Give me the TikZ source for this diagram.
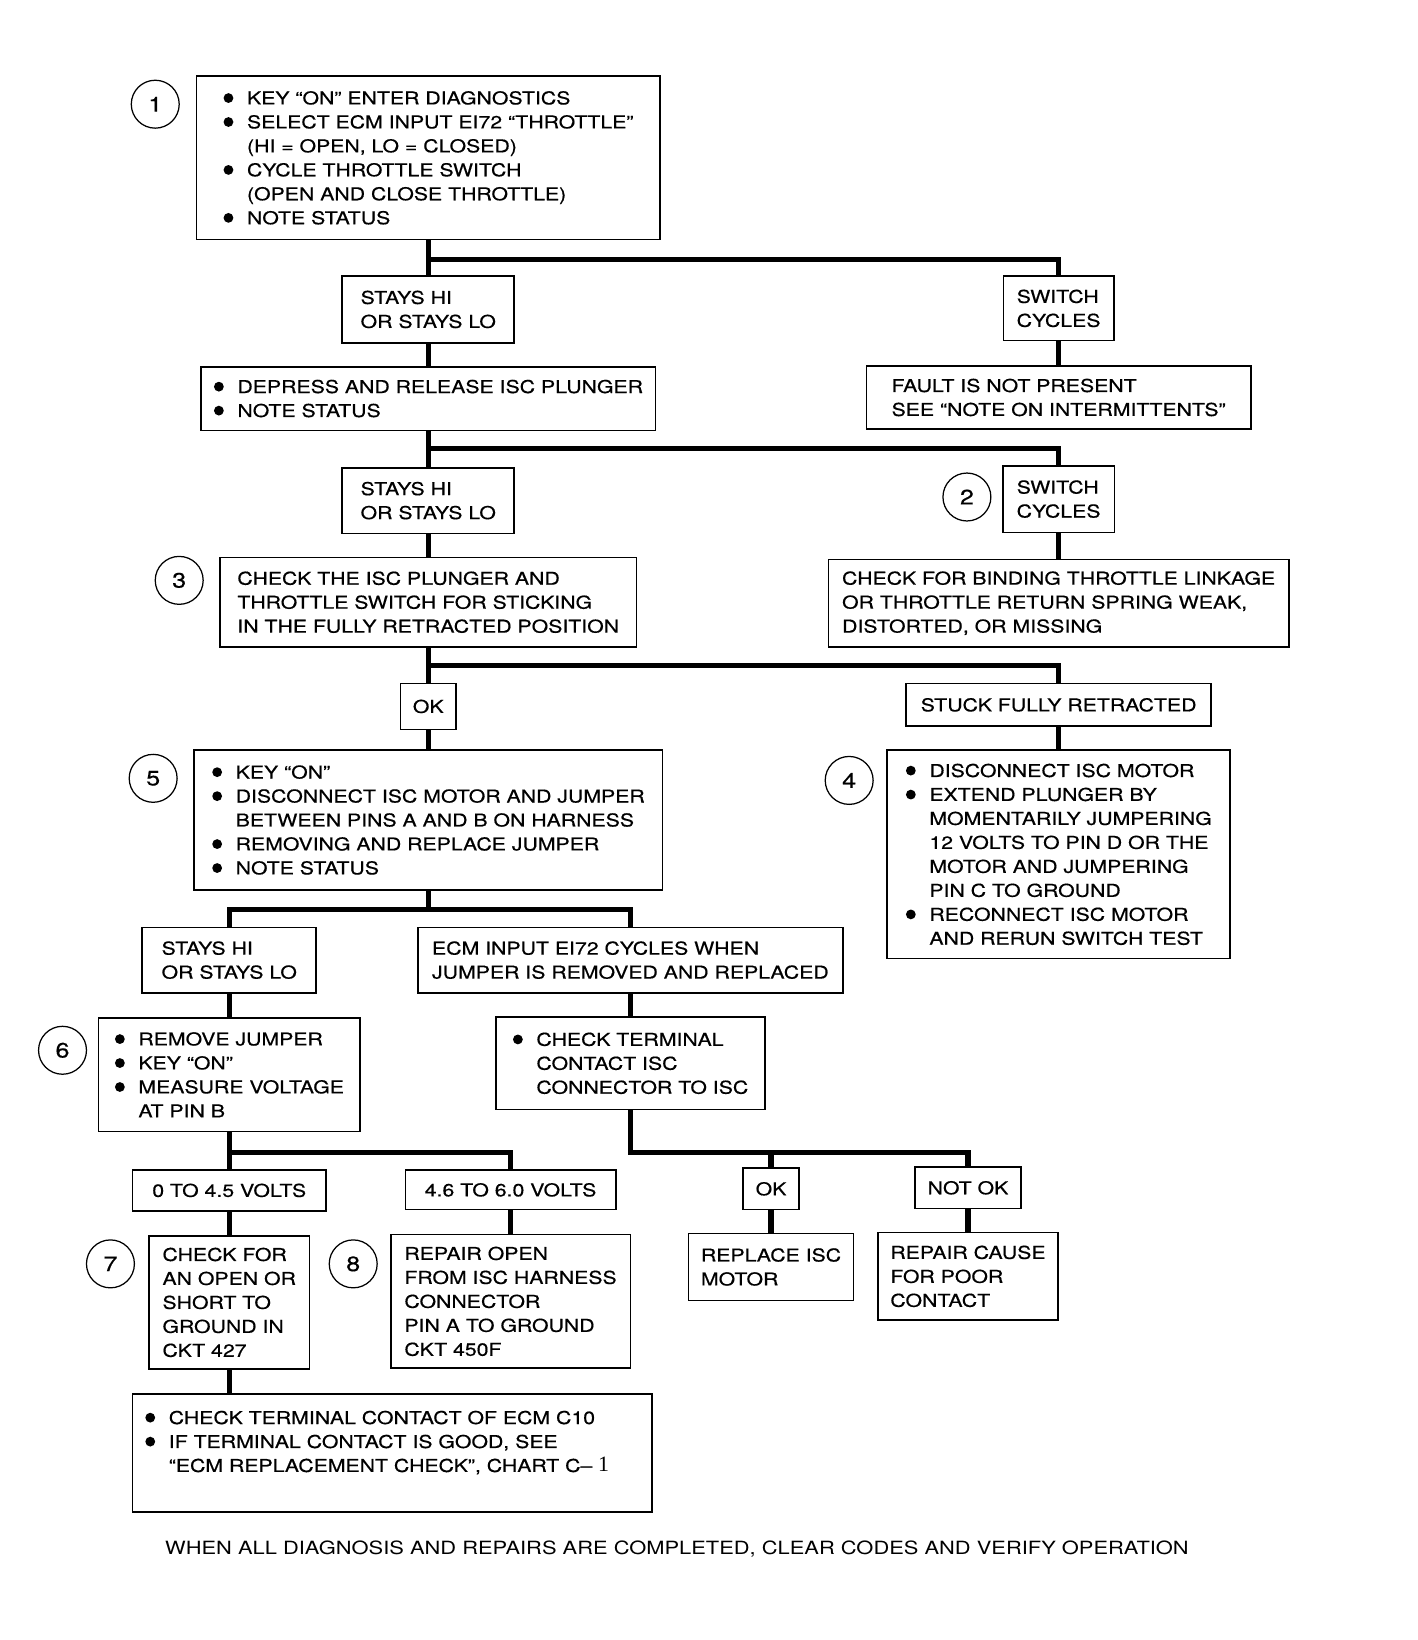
\documentclass[tikz,border=0pt]{standalone}
\usepackage{fontspec}
\setmainfont{TeX Gyre Heros}[FakeStretch=1.2,FakeBold=0.5]
\newfontfamily\serifone{Liberation Serif}
\newfontfamily\plainfont{TeX Gyre Heros}[FakeStretch=1.2]
\usepackage{tikz}
\usetikzlibrary{positioning}

\newcommand{\chartfont}{\fontsize{17pt}{23pt}\selectfont}
\newcommand{\bul}{\makebox[23pt][l]{\hspace{0.5pt}\tikz[baseline=-6.1pt]\fill (4.7pt,0pt) circle (4.7pt);}}
\newcommand{\ind}{\hspace*{23pt}}

\begin{document}
\begin{tikzpicture}[x=1pt,y=-1pt]

  \tikzstyle{every node}=[font=\chartfont]
  \tikzstyle{box}=[draw,rectangle,line width=1.5pt,align=left,inner xsep=12pt,inner ysep=8pt]
  \tikzstyle{num}=[draw,circle,line width=1.2pt,minimum size=46pt,inner sep=0pt,
    font=\fontsize{20pt}{23pt}\selectfont]
  \tikzstyle{conn}=[line width=5pt,line join=miter]

  \useasboundingbox (0,0) rectangle (1360,1574);

  % step 1
  \node[num] (c1) at (149,100) {1};
  \node[box,minimum width=445pt,minimum height=157pt] (s1) at (411,151.5)
    {\bul KEY “ON” ENTER DIAGNOSTICS\\
     \bul SELECT ECM INPUT EI72 “THROTTLE”\\
     \ind (HI = OPEN, LO = CLOSED)\\
     \bul CYCLE THROTTLE SWITCH\\
     \ind (OPEN AND CLOSE THROTTLE)\\
     \bul NOTE STATUS};
  \node[box,minimum width=165pt,minimum height=64pt] (hl1) at (411,297)
    {STAYS HI\\ OR STAYS LO};
  \node[box,minimum width=106pt,minimum height=62pt] (sw1) at (1016,296)
    {SWITCH\\ CYCLES};
  \node[box,minimum width=435pt,minimum height=61pt] (dep) at (411,382.5)
    {\bul DEPRESS AND RELEASE ISC PLUNGER\\ \bul NOTE STATUS};
  \node[box,minimum width=369pt,minimum height=61pt] (fault) at (1016,381.5)
    {FAULT IS NOT PRESENT\\ SEE “NOTE ON INTERMITTENTS”};

  % step 2 and 3
  \node[box,minimum width=165pt,minimum height=63pt] (hl2) at (411,480.5)
    {STAYS HI\\ OR STAYS LO};
  \node[box,minimum width=107pt,minimum height=64pt] (sw2) at (1016,479)
    {SWITCH\\ CYCLES};
  \node[num] (c2) at (928,477) {2};
  \node[num] (c3) at (172,557) {3};
  \node[box,minimum width=400pt,minimum height=86pt] (chk) at (411,578)
    {CHECK THE ISC PLUNGER AND\\
     THROTTLE SWITCH FOR STICKING\\
     IN THE FULLY RETRACTED POSITION};
  \node[box,minimum width=442pt,minimum height=84pt] (bind) at (1016,579)
    {CHECK FOR BINDING THROTTLE LINKAGE\\
     OR THROTTLE RETURN SPRING WEAK,\\
     DISTORTED, OR MISSING};

  % step 4 and 5
  \node[box,minimum width=51pt,minimum height=44pt,align=center] (ok1) at (411,678) {OK};
  \node[box,minimum width=293pt,minimum height=41pt,align=center] (stuck) at (1016,676.5)
    {STUCK FULLY RETRACTED};
  \node[num] (c5) at (147,747) {5};
  \node[box,minimum width=450pt,minimum height=134pt] (s5) at (411,787)
    {\bul KEY “ON”\\
     \bul DISCONNECT ISC MOTOR AND JUMPER\\
     \ind BETWEEN PINS A AND B ON HARNESS\\
     \bul REMOVING AND REPLACE JUMPER\\
     \bul NOTE STATUS};
  \node[num] (c4) at (815,749) {4};
  \node[box,minimum width=329pt,minimum height=200pt] (s4) at (1016,820)
    {\bul DISCONNECT ISC MOTOR\\
     \bul EXTEND PLUNGER BY\\
     \ind MOMENTARILY JUMPERING\\
     \ind 12 VOLTS TO PIN D OR THE\\
     \ind MOTOR AND JUMPERING\\
     \ind PIN C TO GROUND\\
     \bul RECONNECT ISC MOTOR\\
     \ind AND RERUN SWITCH TEST};

  % step 6
  \node[box,minimum width=167pt,minimum height=63pt] (hl3) at (220,921.5)
    {STAYS HI\\ OR STAYS LO};
  \node[box,minimum width=408pt,minimum height=63pt] (cyc) at (605,921.5)
    {ECM INPUT EI72 CYCLES WHEN\\ JUMPER IS REMOVED AND REPLACED};
  \node[num] (c6) at (60,1008) {6};
  \node[box,minimum width=251pt,minimum height=109pt] (s6) at (220,1031.5)
    {\bul REMOVE JUMPER\\
     \bul KEY “ON”\\
     \bul MEASURE VOLTAGE\\
     \ind AT PIN B};
  \node[box,minimum width=258pt,minimum height=89pt] (term) at (605,1020.5)
    {\bul CHECK TERMINAL\\
     \ind CONTACT ISC\\
     \ind CONNECTOR TO ISC};

  % results
  \node[box,minimum width=186pt,minimum height=39pt,align=center] (v1) at (220,1142.5)
    {0 TO 4.5 VOLTS};
  \node[box,minimum width=202pt,minimum height=38pt,align=center] (v2) at (490,1142)
    {4.6 TO 6.0 VOLTS};
  \node[box,minimum width=52pt,minimum height=40pt,align=center] (ok2) at (740,1141) {OK};
  \node[box,minimum width=102pt,minimum height=40pt,align=center] (nok) at (929,1140) {NOT OK};

  % step 7 and 8
  \node[num] (c7) at (106,1213) {7};
  \node[box,minimum width=154pt,minimum height=128pt] (s7) at (220,1250)
    {CHECK FOR\\ AN OPEN OR\\ SHORT TO\\ GROUND IN\\ CKT 427};
  \node[num] (c8) at (339,1213) {8};
  \node[box,minimum width=230pt,minimum height=128pt] (s8) at (490,1249)
    {REPAIR OPEN\\ FROM ISC HARNESS\\ CONNECTOR\\ PIN A TO GROUND\\ CKT 450F};
  \node[box,minimum width=156pt,minimum height=64pt] (repl) at (740,1216)
    {REPLACE ISC\\ MOTOR};
  \node[box,minimum width=171pt,minimum height=84pt] (poor) at (929,1225)
    {REPAIR CAUSE\\ FOR POOR\\ CONTACT};
  \node[box,inner ysep=16pt] (ecm) at (376.5,1394.5)
    {\parbox[c][81pt][t]{475pt}{\raggedright
     \bul CHECK TERMINAL CONTACT OF ECM C10\\
     \bul IF TERMINAL CONTACT IS GOOD, SEE\\
     \ind “ECM REPLACEMENT CHECK”, CHART C– {\serifone\fontsize{21pt}{23pt}\selectfont 1}}};

  \node[anchor=west,font=\plainfont\fontsize{17.5pt}{23pt}\selectfont] (done) at (155,1487)
    {WHEN ALL DIAGNOSIS AND REPAIRS ARE COMPLETED, CLEAR CODES AND VERIFY OPERATION};

  % connectors
  \foreach \from/\to in {s1/hl1,hl1/dep,sw1/fault,dep/hl2,hl2/chk,sw2/bind,
      chk/ok1,ok1/s5,stuck/s4,hl3/s6,cyc/term,v1/s7,v2/s8,ok2/repl,nok/poor}
    \draw[conn] (\from.south) -- (\to.north);
  \foreach \from/\to/\d in {s1/sw1/18,dep/sw2/17,chk/stuck/17,s5/hl3/18,s5/cyc/18,
      s6/v1/19,s6/v2/19,term/ok2/40,term/nok/40}
    \draw[conn] (\from.south) -- ++(0,\d) -| (\to.north);
  \draw[conn] (s7.south) -- (s7.south |- ecm.north);

\end{tikzpicture}
\end{document}
